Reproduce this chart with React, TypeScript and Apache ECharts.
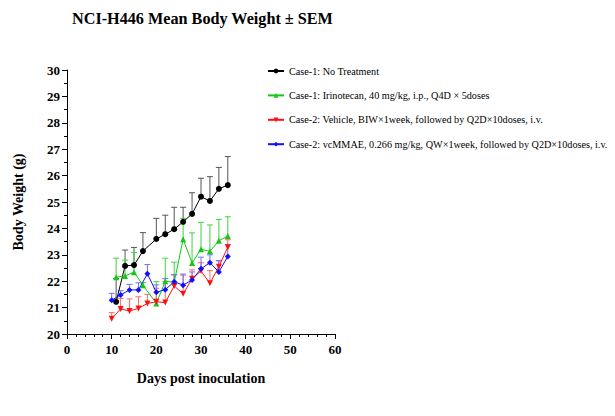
import React, { useEffect, useRef } from "react";
import * as echarts from "echarts";

const titleText = "NCI-H446 Mean Body Weight ± SEM";
const xAxisName = "Days post inoculation";
const yAxisName = "Body Weight (g)";

const seriesNames = [
  "Case-1: No Treatment",
  "Case-1: Irinotecan, 40 mg/kg, i.p., Q4D × 5doses",
  "Case-2: Vehicle, BIW×1week, followed by Q2D×10doses, i.v.",
  "Case-2: vcMMAE, 0.266 mg/kg, QW×1week, followed by Q2D×10doses, i.v.",
];

const daysCase1 = [11, 13, 15, 17, 20, 22, 24, 26, 28, 30, 32, 34, 36];
const daysCase2 = [10, 12, 14, 16, 18, 20, 22, 24, 26, 28, 30, 32, 34, 36];

const noTreatMean = [21.22, 22.58, 22.61, 23.14, 23.6, 23.78, 23.97, 24.25, 24.55, 25.2, 25.04, 25.5, 25.64];
const noTreatSem = [0.88, 0.6, 0.67, 0.7, 0.78, 0.72, 0.83, 0.55, 0.8, 0.7, 0.92, 0.81, 1.08];

const irinoMean = [22.15, 22.2, 22.34, 21.85, 21.16, 22.0, 21.96, 23.59, 22.69, 23.21, 23.13, 23.53, 23.71];
const irinoSem = [0.72, 0.6, 0.75, 0.1, 0.82, 0.87, 0.76, 0.79, 1.14, 1.02, 1.0, 0.81, 0.73];

const vehicleMean = [20.58, 20.95, 20.87, 20.97, 21.16, 21.22, 21.19, 21.82, 21.52, 22.09, 22.39, 21.92, 22.55, 23.29];
const vehicleSem = [0.23, 0.4, 0.46, 0.44, 0.34, 0.51, 0.8, 0.42, 0.71, 0.34, 0.31, 0.48, 0.22, 0.28];

const mmaeMean = [21.28, 21.48, 21.67, 21.67, 22.28, 21.58, 21.68, 21.98, 21.85, 22.05, 22.47, 22.7, 22.35, 22.94];
const mmaeSem = [0.26, 0.16, 0.21, 0.27, 0.35, 0.28, 0.42, 0.27, 0.42, 0.3, 0.44, 0.3, 0.43, 0.45];

const colors = ["#000000", "#14c814", "#ff1010", "#1010ff"];
const barColors = ["#555555", "#3fd43f", "#ff6a6a", "#7070ff"];
const symbols = ["circle", "triangle", "path://M0,0 L10,0 L5,9 Z", "diamond"];
const symbolSizes = [6, 6, 6, 6];

const FONT = "'Liberation Serif', 'Times New Roman', serif";

function pairs(xs: number[], ys: number[]) {
  return xs.map((x, i) => [x, ys[i]]);
}
function triples(xs: number[], ys: number[], es: number[]) {
  return xs.map((x, i) => [x, ys[i], es[i]]);
}

export default function App() {
  const ref = useRef<HTMLDivElement>(null);
  useEffect(() => {
    if (!ref.current) return;
    const chart = echarts.init(ref.current, null, { renderer: "svg" });
    const groups = [
      { x: daysCase1, m: noTreatMean, e: noTreatSem },
      { x: daysCase1, m: irinoMean, e: irinoSem },
      { x: daysCase2, m: vehicleMean, e: vehicleSem },
      { x: daysCase2, m: mmaeMean, e: mmaeSem },
    ];
    const errSeries = groups.map((g, i) => ({
      type: "custom",
      name: "err" + i,
      z: 1,
      encode: { x: 0, y: 1 },
      data: triples(g.x, g.m, g.e),
      renderItem: (params: any, api: any) => {
        const x = api.value(0);
        const m = api.value(1);
        const s = api.value(2);
        const p0 = api.coord([x, m]);
        const p1 = api.coord([x, m + s]);
        const style = { stroke: barColors[i], lineWidth: 1 };
        return {
          type: "group",
          children: [
            { type: "line", shape: { x1: p0[0], y1: p0[1], x2: p1[0], y2: p1[1] }, style },
            { type: "line", shape: { x1: p1[0] - 3, y1: p1[1], x2: p1[0] + 3, y2: p1[1] }, style },
          ],
        };
      },
    }));
    const lineSeries = groups.map((g, i) => ({
      type: "line",
      name: seriesNames[i],
      z: 3,
      data: pairs(g.x, g.m),
      symbol: symbols[i],
      symbolSize: symbolSizes[i],
      lineStyle: { color: colors[i], width: 1 },
      itemStyle: { color: colors[i] },
    }));
    chart.setOption({
      animation: false,
      backgroundColor: "#ffffff",
      title: {
        text: titleText,
        left: 72,
        top: 11,
        padding: 0,
        textStyle: { fontFamily: FONT, fontSize: 16.2, fontWeight: "bold", color: "#000" },
      },
      legend: {
        data: seriesNames,
        orient: "vertical",
        left: 267,
        top: 66,
        padding: 0,
        itemWidth: 16,
        itemHeight: 6,
        itemGap: 14.4,
        textStyle: { fontFamily: FONT, fontSize: 10.2, color: "#000" },
      },
      grid: { left: 67, right: 280, top: 70, bottom: 82, containLabel: false },
      xAxis: {
        type: "value",
        min: 0,
        max: 60,
        interval: 10,
        name: xAxisName,
        nameLocation: "middle",
        nameGap: 37,
        nameTextStyle: { fontFamily: FONT, fontSize: 14, fontWeight: "bold", color: "#000" },
        axisLine: { lineStyle: { color: "#000", width: 1 } },
        axisTick: { length: 5, lineStyle: { color: "#000" } },
        minorTick: { show: true, splitNumber: 5, length: 3, lineStyle: { color: "#000" } },
        axisLabel: { fontFamily: FONT, fontSize: 13, fontWeight: "bold", color: "#000", margin: 9 },
        splitLine: { show: false },
      },
      yAxis: {
        type: "value",
        min: 20,
        max: 30,
        interval: 1,
        name: yAxisName,
        nameLocation: "middle",
        nameGap: 42,
        nameTextStyle: { fontFamily: FONT, fontSize: 14, fontWeight: "bold", color: "#000" },
        axisLine: { show: true, lineStyle: { color: "#000", width: 1 } },
        axisTick: { show: true, length: 5, lineStyle: { color: "#000" } },
        minorTick: { show: true, splitNumber: 2, length: 3, lineStyle: { color: "#000" } },
        axisLabel: { fontFamily: FONT, fontSize: 13, fontWeight: "bold", color: "#000", margin: 7 },
        splitLine: { show: false },
      },
      series: [...errSeries, ...lineSeries],
    });
    return () => chart.dispose();
  }, []);
  return (
    <div
      ref={ref}
      style={{ position: "fixed", left: 0, top: 0, width: 615, height: 416, background: "#fff" }}
    />
  );
}
